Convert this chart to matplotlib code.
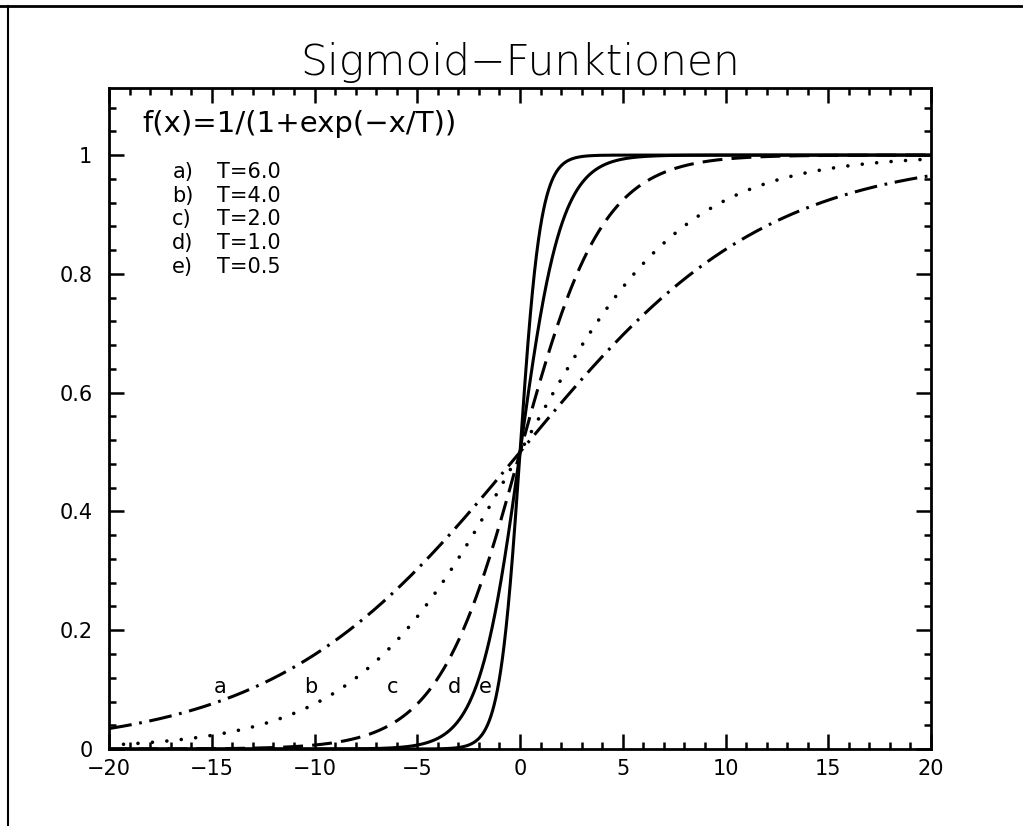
import numpy as np
import matplotlib.pyplot as plt
from matplotlib.ticker import MultipleLocator

# curve parameters
temps = [6.0, 4.0, 2.0, 1.0, 0.5]
letters = ['a', 'b', 'c', 'd', 'e']
legend_keys = ['a)', 'b)', 'c)', 'd)', 'e)']
legend_vals = ['T=6.0', 'T=4.0', 'T=2.0', 'T=1.0', 'T=0.5']
# label positions on the curves (x, y)
label_x = [-14.6, -10.2, -6.2, -3.2, -1.7]
label_y = [0.105, 0.105, 0.105, 0.105, 0.105]

styles = [
    dict(linestyle=(0, (7.5, 2.5, 0.9, 2.5))),
    dict(linestyle=(0, (0.01, 4.0)), dash_capstyle='round', lw=2.6),
    dict(linestyle=(0, (6.5, 3.0))),
    dict(linestyle='-'),
    dict(linestyle='-'),
]

x = np.linspace(-20, 20, 2001)

fig = plt.figure(figsize=(10.23, 8.26), dpi=100)
ax = fig.add_axes([0.1066, 0.0932, 0.8035, 0.8003])

for T, st in zip(temps, styles):
    y = 1.0 / (1.0 + np.exp(-x / T))
    kw = dict(color='black', lw=2.2)
    kw.update(st)
    ax.plot(x, y, **kw)

for lab, lx, ly in zip(letters, label_x, label_y):
    ax.text(lx, ly, lab, fontsize=15, ha='center', va='center')

ax.text(0.04, 0.945, 'f(x)=1/(1+exp(\u2212x/T))', transform=ax.transAxes,
        fontsize=21, va='center', ha='left')
for i, (k, v) in enumerate(zip(legend_keys, legend_vals)):
    yy = 0.873 - i * 0.0358
    ax.text(0.077, yy, k, transform=ax.transAxes, fontsize=15, va='center', ha='left')
    ax.text(0.131, yy, v, transform=ax.transAxes, fontsize=15, va='center', ha='left')

ax.set_xlim(-20, 20)
ax.set_ylim(0, 1.113)
ax.xaxis.set_minor_locator(MultipleLocator(1))
ax.yaxis.set_minor_locator(MultipleLocator(0.04))
ax.set_yticks([0, 0.2, 0.4, 0.6, 0.8, 1.0])
ax.set_yticklabels(['0', '0.2', '0.4', '0.6', '0.8', '1'])
ax.set_xticks([-20, -15, -10, -5, 0, 5, 10, 15, 20])
ax.set_xticklabels(['\u221220', '\u221215', '\u221210', '\u22125', '0', '5', '10', '15', '20'])

ax.tick_params(which='both', direction='in', top=True, right=True, width=1.8,
               labelsize=15)
ax.tick_params(axis='x', which='major', length=11, pad=7)
ax.tick_params(axis='y', which='major', length=11, pad=12)
ax.tick_params(which='minor', length=5)
for sp in ax.spines.values():
    sp.set_linewidth(2)

fig.text(0.508, 0.924, 'Sigmoid\u2212Funktionen', fontsize=30.5, fontweight='light',
         ha='center', va='center')

# outer frame
fig.add_artist(plt.Line2D([0, 1], [0.993, 0.993], transform=fig.transFigure, color='black', lw=2))
fig.add_artist(plt.Line2D([0.008, 0.008], [0, 0.993], transform=fig.transFigure, color='black', lw=1.5))

fig.savefig('out.png', dpi=100)
